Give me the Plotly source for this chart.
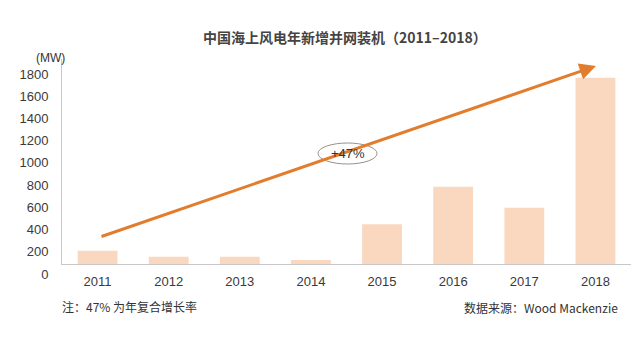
import plotly.graph_objects as go

years = ["2011", "2012", "2013", "2014", "2015", "2016", "2017", "2018"]
new_capacity_mw = [120, 66, 66, 36, 357, 696, 507, 1677]
y_ticks = [0, 200, 400, 600, 800, 1000, 1200, 1400, 1600, 1800]

title_text = "中国海上风电年新增并网装机（2011–2018）"
unit_text = "(MW)"
cagr_text = "+47%"
note_text = "注：47% 为年复合增长率"
source_text = "数据来源：Wood Mackenzie"

FONT = "Liberation Sans, Arial, Noto Sans CJK SC, sans-serif"
CJK = "Noto Sans CJK SC, Liberation Sans, sans-serif"

fig = go.Figure()
fig.add_trace(go.Bar(
    x=years, y=new_capacity_mw,
    marker=dict(color="#FAD8BF", line=dict(width=0)),
    hoverinfo="x+y",
))

W, H = 640, 343
ml, mr, mt, mb = 62, 9, 59, 79

fig.update_layout(
    width=W, height=H,
    margin=dict(l=ml, r=mr, t=mt, b=mb, pad=0),
    paper_bgcolor="white", plot_bgcolor="white",
    bargap=0.44,
    showlegend=False,
    font=dict(family=FONT, color="#333333", size=13),
)
fig.update_xaxes(
    type="category", showgrid=False, zeroline=False,
    showline=True, linecolor="#C8C8C8", linewidth=1,
    ticks="", tickfont=dict(size=13, color="#3a3a3a"),
    ticklabelstandoff=5,
)
fig.update_yaxes(
    range=[0, 1845], showgrid=False, zeroline=False,
    showline=True, linecolor="#C8C8C8", linewidth=1,
    tickvals=y_ticks, ticks="",
    tickfont=dict(size=13, color="#3a3a3a"),
    ticklabelshift=10, ticklabelstandoff=10,
)

plot_w = W - ml - mr
plot_h = H - mt - mb

def px(xp):
    return (xp - ml) / plot_w

def py(yp):
    return (H - mb - yp) / plot_h

# trend arrow
fig.add_annotation(
    xref="x domain", yref="y domain", axref="x domain", ayref="y domain",
    x=px(596), y=py(66), ax=px(100), ay=py(237),
    showarrow=True, arrowhead=2, arrowsize=1.1, arrowwidth=3,
    arrowcolor="#E27D2E", text="",
)

# ellipse with +47%
fig.add_shape(
    type="circle", xref="paper", yref="paper",
    x0=px(318), x1=px(377), y0=py(164), y1=py(143),
    fillcolor="white", line=dict(color="#9A8F8A", width=1),
)
fig.add_annotation(
    xref="paper", yref="paper", x=px(347.5), y=py(153.5),
    text=cagr_text, showarrow=False, font=dict(size=13, color="#333333", family=FONT),
)

# title
fig.add_annotation(
    xref="paper", yref="paper", x=px(345), y=py(25),
    text="<b>" + title_text + "</b>", showarrow=False,
    font=dict(size=14, color="#444444", family=CJK),
)
# unit
fig.add_annotation(
    xref="paper", yref="paper", x=px(34), y=py(49),
    text=unit_text, showarrow=False,
    font=dict(size=12, color="#333333", family=FONT),
)
# note
fig.add_annotation(
    xref="paper", yref="paper", x=px(60), y=py(317), xanchor="left",
    text=note_text, showarrow=False,
    font=dict(size=12, color="#333333", family=CJK),
)
# source
fig.add_annotation(
    xref="paper", yref="paper", x=px(462), y=py(318), xanchor="left",
    text=source_text, showarrow=False,
    font=dict(size=12, color="#333333", family=CJK),
)

fig.write_html("out.html")
